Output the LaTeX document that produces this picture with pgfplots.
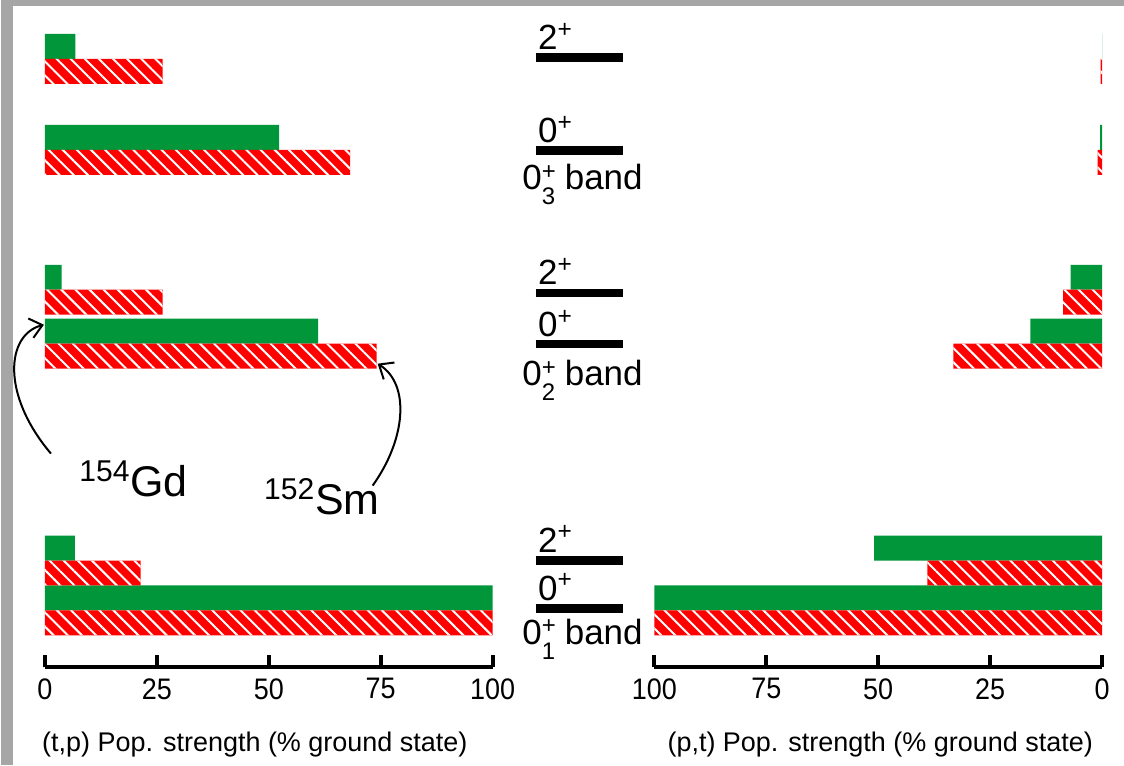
\documentclass[border=0pt]{standalone}
\usepackage{pgfplots}
\pgfplotsset{compat=1.18}
\usepackage{pgfplotstable}
\usepackage{graphicx}
\usepackage{fontspec}
\setmainfont{Liberation Sans}
\usetikzlibrary{patterns.meta,arrows.meta}
\definecolor{bgreen}{RGB}{0,150,57}
\definecolor{bred}{RGB}{255,0,0}
\definecolor{frame}{RGB}{166,166,166}

% y = minus pixel row of bar centre; tp = (t,p) strength, pt = (p,t) strength
\pgfplotstableread{
y      tp     pt
-46.5  6.8    0
-137.5 52.3   0.4
-277.5 3.7    7.0
-331.5 61.0   16.0
-548.5 6.7    50.9
-598.5 100    100
}\gdtab
\pgfplotstableread{
y      tp     pt
-71.5  26.3   0.3
-162.5 68.2   1.0
-302.5 26.3   8.7
-356.5 74.1   33.2
-573.5 21.4   39.0
-623.5 100    100
}\smtab

\pgfplotsset{
  pop/.style={
    scale only axis, width=224pt, height=334pt,
    xmin=0, xmax=100, ymin=-668, ymax=0,
    enlargelimits=false, clip=false,
    axis x line=bottom, axis y line=none,
    x axis line style={-, line width=2pt},
    xtick={0,25,50,75,100},
    tick align=inside, major tick length=6pt,
    tick style={black, line width=2pt},
    xticklabel={\scalebox{1}[1.1]{\pgfmathprintnumber{\tick}}},
    xticklabel style={font=\fontsize{13.5}{16}\selectfont, yshift=-2pt},
    /pgf/number format/assume math mode=true,
    anchor=center,
  },
  gd/.style={xbar, bar width=25, bar shift=0pt, fill=bgreen, draw=none},
  sm/.style={xbar, bar width=25, bar shift=0pt, fill=bred, draw=none,
    postaction={pattern={Lines[angle=-45,distance=5pt,line width=1pt]}, pattern color=white}},
}
\newcommand\lev{\fontsize{17.5}{20}\selectfont}
\newcommand\bandlab[1]{\lev 0\rlap{\raisebox{0.3em}{\fontsize{12}{14}\selectfont +}}\raisebox{-0.42em}{\fontsize{12}{14}\selectfont #1}~band}

\begin{document}
\begin{tikzpicture}
\begin{scope}[x=0.5pt,y=-0.5pt]
  \fill[frame] (0,0) rectangle (1124,766);
  \fill[white] (12,6) rectangle (1124,766);
  \useasboundingbox (0,0) rectangle (1124,766);
\end{scope}

\begin{axis}[pop, at={(134pt,-167pt)}]
  \addplot[gd] table[x=tp,y=y]{\gdtab};
  \addplot[sm] table[x=tp,y=y]{\smtab};
\end{axis}

\begin{axis}[pop, x dir=reverse, at={(439pt,-167pt)}]
  \addplot[gd] table[x=pt,y=y]{\gdtab};
  \addplot[sm] table[x=pt,y=y]{\smtab};
\end{axis}

\begin{scope}[x=0.5pt,y=-0.5pt]
  % level scheme
  \foreach \yy in {57.5,150.5,293,344.5,561,609}
    \draw[line width=4.2pt] (535,\yy) -- (623,\yy);
  \node[anchor=base,inner sep=0pt] at (555,50)  {\lev 2\textsuperscript{+}};
  \node[anchor=base,inner sep=0pt] at (555,143) {\lev 0\textsuperscript{+}};
  \node[anchor=base,inner sep=0pt] at (582,190) {\bandlab{3}};
  \node[anchor=base,inner sep=0pt] at (555,285) {\lev 2\textsuperscript{+}};
  \node[anchor=base,inner sep=0pt] at (555,337) {\lev 0\textsuperscript{+}};
  \node[anchor=base,inner sep=0pt] at (582,386) {\bandlab{2}};
  \node[anchor=base,inner sep=0pt] at (555,553) {\lev 2\textsuperscript{+}};
  \node[anchor=base,inner sep=0pt] at (555,601) {\lev 0\textsuperscript{+}};
  \node[anchor=base,inner sep=0pt] at (582,645) {\bandlab{1}};
  % axis titles
  \node[anchor=base,inner sep=0pt] at (254,752) {\fontsize{13.5}{16}\selectfont (t,p) Pop. strength (\% ground state)};
  \node[anchor=base,inner sep=0pt] at (880,752) {\fontsize{13.5}{16}\selectfont (p,t) Pop. strength (\% ground state)};
  % isotope annotations
  \node[anchor=base west,inner sep=0pt] at (78,497) {\fontsize{21.5}{24}\selectfont\textsuperscript{154}Gd};
  \node[anchor=base west,inner sep=0pt] at (263,515) {\fontsize{21.5}{24}\selectfont\textsuperscript{152}Sm};
  \draw[line width=1pt,-{Straight Barb[length=6pt,width=10pt]}] (50,454) .. controls (0,395) and (5,335) .. (43,325);
  \draw[line width=1pt,-{Straight Barb[length=6pt,width=10pt]}] (372,486) .. controls (405,440) and (410,385) .. (377,364);
\end{scope}
\end{tikzpicture}
\end{document}
